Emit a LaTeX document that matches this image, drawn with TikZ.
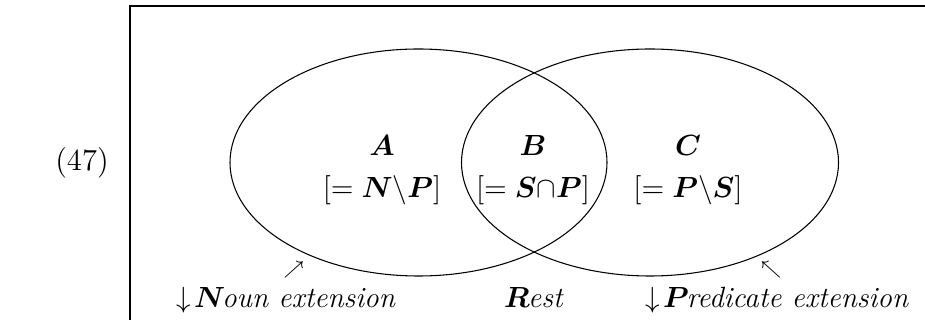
\documentclass[tikz,border=0pt]{standalone}
\usepackage{amsmath,amssymb}
\usepackage{tikz}
\usetikzlibrary{positioning}
\tikzset{
	setlabel/.style={align=center, inner sep=2pt, font=\fontsize{11}{13.5}\selectfont},
	footlabel/.style={anchor=base, inner sep=0pt, font=\fontsize{11}{13.5}\selectfont},
	pointer/.style={inner sep=0pt, font=\scriptsize}
}

\begin{document}
\begin{tikzpicture}[x=0.0132cm, y=-0.0132cm,
			setline/.style={line width=0.4pt},
			]
			\path[use as bounding box, clip] (0,0) rectangle (925,320);
			
			%% -- Example number and frame
			\node[font=\fontsize{11.5}{14}\selectfont] (num) at (82,163) {(47)};
			\draw[line width=0.5pt] (130,6) rectangle (980,360);
			
			%% -- The two overlapping sets
			\draw[setline] (418.5,162.5) ellipse [x radius=188.5, y radius=113.5];
			\draw[setline] (650,162.5) ellipse [x radius=188.5, y radius=113.5];
			
			%% -- Region labels
			\node[setlabel] (nsub) at (382,170)
			{$\boldsymbol{A}$\\[2.5pt] $[=\boldsymbol{N}\backslash\boldsymbol{P}]$};
			\node[setlabel] (inter) at (533,170)
			{$\boldsymbol{B}$\\[2.5pt] $[=\boldsymbol{S}{\cap}\boldsymbol{P}]$};
			\node[setlabel] (psub) at (688,170)
			{$\boldsymbol{C}$\\[2.5pt] $[=\boldsymbol{P}\backslash\boldsymbol{S}]$};
			
			%% -- Captions below
			\node[footlabel] (noun) at (286,307)
			{$\downarrow\!\boldsymbol{N}$\kern-1.2pt\textit{oun extension}};
			\node[footlabel] (rest) at (534,307)
			{$\boldsymbol{R}$\kern-0.6pt\textit{est}};
			\node[footlabel] (pred) at (777,307)
			{$\downarrow\!\boldsymbol{P}$\kern-0.8pt\textit{redicate extension}};
			
			%% -- Little pointers toward the set boundaries
			\node[pointer] (npoint) at (294,270) {$\nearrow$};
			\node[pointer] (ppoint) at (771,270) {$\nwarrow$};
			
		\end{tikzpicture}
\end{document}
